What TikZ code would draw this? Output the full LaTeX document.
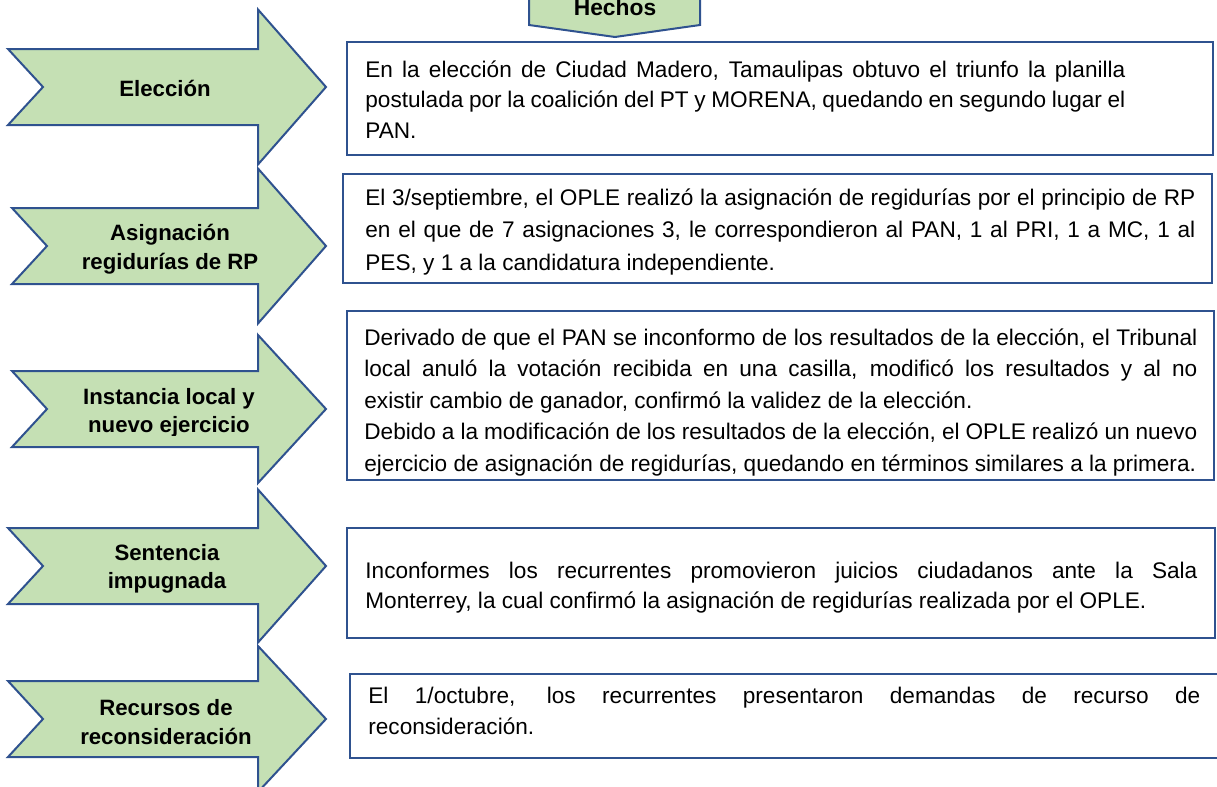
\documentclass[tikz,border=0pt]{standalone}
\usepackage{fontspec}
\setmainfont{Liberation Sans}
\usetikzlibrary{calc}

\definecolor{hoja}{HTML}{C5E0B4}
\definecolor{borde}{HTML}{2F528F}

\hyphenpenalty=10000
\exhyphenpenalty=10000
\tolerance=9999
\emergencystretch=3em

\begin{document}
\begin{tikzpicture}[x=0.5pt, y=-0.5pt,
    flecha/.style={draw=borde, fill=hoja, line width=1pt, line join=miter},
    marco/.style={draw=borde, line width=1pt},
    etiqueta/.style={font=\fontsize{11.1}{14.25}\selectfont\bfseries,
                     align=center, inner sep=0pt},
    texto/.style={font=\fontsize{11.3}{#1}\selectfont, align=justify,
                  inner sep=0pt, anchor=base west},
    texto/.default=15.5]
  \useasboundingbox (0, 0) rectangle (1217, 787);
  \clip (0, 0) rectangle (1217, 787);
  \begin{scope}
    \foreach \l/\y/\h in {8/87/77.5, 12/246/77.5, 12/409/74, 8/566/76.5, 8/719/73}{
      \coordinate (m) at (\l, \y);
      \draw[flecha] (\l, \y-38) -- (258, \y-38) -- (258, \y-\h) -- (326, \y)
            -- (258, \y+\h) -- (258, \y+38) -- (\l, \y+38)
            -- ($(m) + (35, 0)$) -- cycle;
    }
    \draw[flecha] (529, -10) -- (700, -10) -- (700, 25) -- (615, 37)
          -- (529, 25) -- cycle;
  \end{scope}
  \node[font=\fontsize{11.4}{14}\selectfont\bfseries, anchor=base,
        inner sep=0pt] (hechos) at (615, 16) {Hechos};

  \node[etiqueta] (eleccion) at (165, 88) {Elección};
  \node[etiqueta] (asignacion) at (170, 249) {Asignación\\regidurías de RP};
  \begin{scope}
    \clip (0, 300) rectangle (330, 435);
    \node[etiqueta] (instancia) at (169, 413) {Instancia local y\\nuevo ejercicio};
  \end{scope}
  \begin{scope}
    \clip (0, 480) rectangle (330, 592);
    \node[etiqueta] (sentencia) at (167, 569) {Sentencia\\impugnada};
  \end{scope}
  \node[etiqueta] (recursos) at (166, 722) {Recursos de\\reconsideración};

  \draw[marco] (347, 42) rectangle (1213, 155);
  \node[texto=15.25, text width=380pt] (txt1) at (365, 77)
    {En la elección de Ciudad Madero, Tamaulipas obtuvo el triunfo la
     planilla\linebreak postulada por la coalición del PT y MORENA, quedando en
     segundo lugar el\linebreak PAN.};

  \draw[marco] (343, 174) rectangle (1212, 283);
  \node[texto=16.25, text width=415pt] (txt2) at (365, 205)
    {El 3/septiembre, el OPLE realizó la asignación de regidurías por el
     principio de RP\linebreak en el que de 7 asignaciones 3, le correspondieron al
     PAN, 1 al PRI, 1 a MC, 1 al\linebreak PES, y 1 a la candidatura independiente.};

  \draw[marco] (347, 311) rectangle (1214, 480);
  \node[texto=15.75, text width=416.5pt] (txt3) at (364, 345)
    {Derivado de que el PAN se inconformo de los resultados de la
     elección, el Tribunal\linebreak local anuló la votación recibida en una casilla,
     modificó los resultados y al no\linebreak existir cambio de ganador, confirmó la
     validez de la elección.\\
     Debido a la modificación de los resultados de la elección, el OPLE
     realizó un nuevo\linebreak ejercicio de asignación de regidurías, quedando en
     términos similares a la primera.};

  \draw[marco] (347, 528) rectangle (1215, 638);
  \node[texto=15, text width=416pt] (txt4) at (365, 578)
    {Inconformes los recurrentes promovieron juicios ciudadanos ante la
     Sala\linebreak Monterrey, la cual confirmó la asignación de regidurías
     realizada por el OPLE.};

  \draw[marco] (350, 674) rectangle (1230, 758);
  \node[texto, text width=416pt] (txt5) at (368, 703)
    {El 1/octubre, los recurrentes presentaron demandas de recurso
     de\linebreak reconsideración.};
\end{tikzpicture}
\end{document}
